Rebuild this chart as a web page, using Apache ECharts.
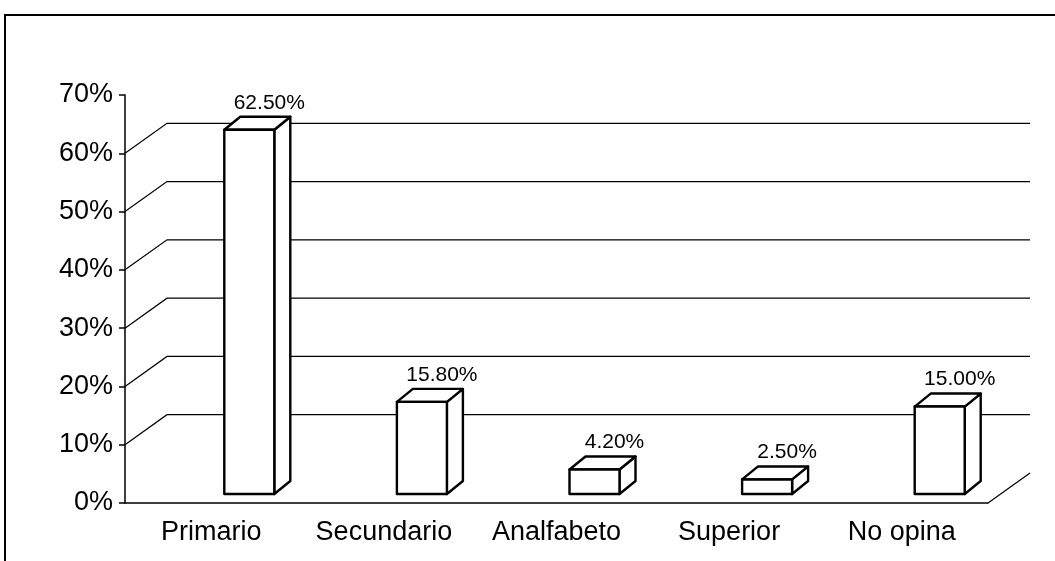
<!DOCTYPE html>
<html>
<head>
<meta charset="utf-8">
<script src="https://cdn.jsdelivr.net/npm/echarts@6/dist/echarts.min.js"></script>
<style>
  html, body { margin: 0; padding: 0; background: #fff; }
  #chart { width: 1055px; height: 561px; }
</style>
</head>
<body>
<div id="chart"></div>
<script>
var categories = ['Primario', 'Secundario', 'Analfabeto', 'Superior', 'No opina']
var values = [62.5, 15.8, 4.2, 2.5, 15.0]
var wallTicks = [0, 10, 20, 30, 40, 50, 60]

// depth of the back wall and of each bar (oblique 3d look)
var wallDx = 42
var wallDy = -30
var barDx = 16
var barDy = -13
var barShiftX = 13
var barShiftY = -9
var barWidth = 50
var font = 'Liberation Sans, Arial, sans-serif'

var chart = echarts.init(document.getElementById('chart'))

chart.setOption({
  backgroundColor: '#fff',
  animation: false,
  graphic: [{
    type: 'rect',
    shape: { x: 5, y: 15, width: 1200, height: 700 },
    style: { fill: 'none', stroke: '#000', lineWidth: 2 },
    silent: true
  }],
  grid: {
    left: 125,
    right: 67,
    top: 95,
    bottom: 58
  },
  xAxis: {
    type: 'category',
    data: categories,
    axisLine: { lineStyle: { color: '#000', width: 1.5 } },
    axisTick: { length: 6, lineStyle: { color: '#000', width: 1.5 } },
    axisLabel: {
      interval: 0,
      hideOverlap: false,
      color: '#000',
      fontSize: 27,
      fontFamily: font,
      margin: 16
    },
    splitLine: { show: false }
  },
  yAxis: {
    type: 'value',
    min: 0,
    max: 70,
    interval: 10,
    axisLine: { show: true, lineStyle: { color: '#000', width: 1.5 } },
    axisTick: { show: true, length: 6, lineStyle: { color: '#000', width: 1.5 } },
    axisLabel: {
      color: '#000',
      fontSize: 27,
      fontFamily: font,
      margin: 12,
      formatter: '{value}%'
    },
    splitLine: { show: false }
  },
  series: [
    {
      // back wall gridlines + side diagonals
      type: 'custom',
      silent: true,
      z: 1,
      data: wallTicks.map(function (v) { return [0, v] }),
      encode: { x: 0, y: 1 },
      renderItem: function (params, api) {
        var v = api.value(1)
        var band = api.size([1, 0])[0]
        var p = api.coord([0, v])
        var left = p[0] - band / 2
        var right = api.coord([categories.length - 1, v])[0] + band / 2
        var y = p[1]
        var pts
        if (v === 0) {
          pts = [[right, y], [right + wallDx, y + wallDy]]
        } else {
          pts = [[left, y], [left + wallDx, y + wallDy], [right + wallDx, y + wallDy]]
        }
        return {
          type: 'polyline',
          shape: { points: pts },
          style: { stroke: '#000', lineWidth: 1.2, fill: 'none' }
        }
      }
    },
    {
      type: 'custom',
      z: 5,
      data: values.map(function (v, i) { return [i, v] }),
      encode: { x: 0, y: 1 },
      renderItem: function (params, api) {
        var i = api.value(0)
        var v = api.value(1)
        var base = api.coord([i, 0])
        var top = api.coord([i, v])
        var x0 = base[0] + barShiftX
        var yb = base[1] + barShiftY
        var yt = top[1] + barShiftY
        var w = barWidth
        var st = { fill: '#fff', stroke: '#000', lineWidth: 2.4, lineJoin: 'round' }
        return {
          type: 'group',
          children: [
            {
              type: 'polygon',
              shape: { points: [[x0 + w, yt], [x0 + w + barDx, yt + barDy], [x0 + w + barDx, yb + barDy], [x0 + w, yb]] },
              style: st
            },
            {
              type: 'polygon',
              shape: { points: [[x0, yt], [x0 + w, yt], [x0 + w + barDx, yt + barDy], [x0 + barDx, yt + barDy]] },
              style: st
            },
            {
              type: 'rect',
              shape: { x: x0, y: yt, width: w, height: yb - yt },
              style: st
            },
            {
              type: 'text',
              style: {
                text: v.toFixed(2) + '%',
                x: x0 + w / 2 + 20,
                y: yt - 27,
                align: 'center',
                verticalAlign: 'middle',
                fill: '#000',
                fontSize: 21,
                fontFamily: font
              }
            }
          ]
        }
      }
    }
  ]
})
</script>
</body>
</html>
